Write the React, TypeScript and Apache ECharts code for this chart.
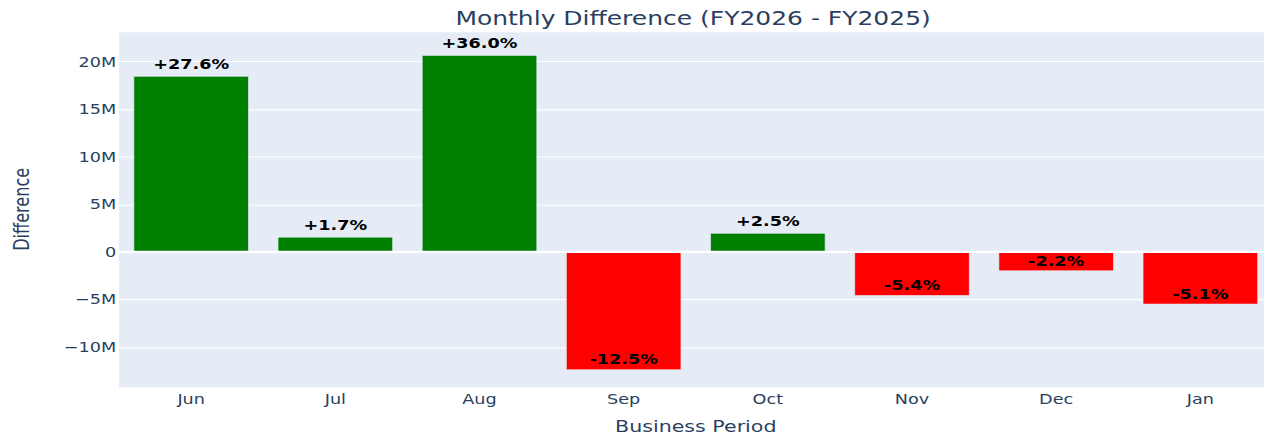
import React, { useEffect, useRef } from "react";
import * as echarts from "echarts";

const months = ["Jun", "Jul", "Aug", "Sep", "Oct", "Nov", "Dec", "Jan"];
const differences = [18.5e6, 1.6e6, 20.7e6, -12.4e6, 2.0e6, -4.6e6, -2.0e6, -5.5e6];
const pctLabels = ["+27.6%", "+1.7%", "+36.0%", "-12.5%", "+2.5%", "-5.4%", "-2.2%", "-5.1%"];
const yMin = -14.24e6;
const yMax = 23.23e6;

const FONT = '"DejaVu Sans", Verdana, sans-serif';
const TXT = "#2a3f5f";
const SX = 1.47;
const SY = 1.15;
const W0 = 943;
const H0 = 383;

export default function App() {
  const ref = useRef<HTMLDivElement>(null);
  useEffect(() => {
    if (!ref.current) return;
    const chart = echarts.init(ref.current, null, { renderer: "svg" });
    const barData = differences.map((v, i) => ({
      value: v,
      itemStyle: { color: v >= 0 ? "#008000" : "#ff0000" },
      label: {
        show: true,
        position: v >= 0 ? "top" : "insideBottom",
        distance: v >= 0 ? 4 : 3,
        formatter: pctLabels[i],
      },
    }));
    chart.setOption({
      animation: false,
      backgroundColor: "#ffffff",
      title: {
        text: "Monthly Difference (FY2026 - FY2025)",
        left: "center",
        top: 2,
        textStyle: { fontFamily: FONT, fontSize: 17, fontWeight: "normal", color: TXT },
      },
      grid: {
        left: 75,
        width: 790.6,
        top: 27,
        height: 310,
        show: true,
        backgroundColor: "#E5ECF6",
        borderWidth: 0,
        containLabel: false,
      },
      xAxis: {
        type: "category",
        data: months,
        name: "Business Period",
        nameLocation: "middle",
        nameGap: 27,
        nameTextStyle: { fontFamily: FONT, fontSize: 14, color: TXT },
        axisLine: { show: false },
        axisTick: { show: false },
        axisLabel: { fontFamily: FONT, fontSize: 12, color: TXT, margin: 4 },
        splitLine: { show: false },
      },
      yAxis: {
        type: "value",
        min: yMin,
        max: yMax,
        splitNumber: 7,
        name: "Difference",
        nameLocation: "middle",
        nameGap: 59,
        nameTextStyle: { fontFamily: FONT, fontSize: 14, color: TXT },
        axisLine: { show: false },
        axisTick: { show: false },
        axisLabel: {
          fontFamily: FONT,
          fontSize: 12,
          color: TXT,
          margin: 2,
          formatter: (v: number) => {
            if (Math.abs(v % 5e6) > 1) return "";
            if (v === 0) return "0";
            return (v < 0 ? "\u2212" : "") + Math.abs(v / 1e6) + "M";
          },
        },
        splitLine: { show: true, lineStyle: { color: "#ffffff", width: 1 } },
      },
      series: [
        {
          type: "line",
          data: [],
          z: 1,
          silent: true,
          markLine: {
            silent: true,
            symbol: "none",
            label: { show: false },
            lineStyle: { color: "#ffffff", width: 2, type: "solid" },
            data: [{ yAxis: 0 }],
          },
        },
        {
          type: "bar",
          z: 2,
          data: barData,
          barCategoryGap: "20%",
          itemStyle: { borderColor: "#E5ECF6", borderWidth: 0.5 },
          label: {
            show: true,
            fontFamily: FONT,
            fontSize: 12,
            fontWeight: "bold",
            color: "#000000",
          },
        },
      ],
    });
    return () => chart.dispose();
  }, []);

  return (
    <div
      style={{
        position: "fixed",
        left: 0,
        top: 0,
        width: 1264,
        height: 440,
        overflow: "hidden",
        background: "#ffffff",
      }}
    >
      <div
        ref={ref}
        style={{
          width: W0,
          height: H0,
          transform: `scale(${SX}, ${SY})`,
          transformOrigin: "0 0",
        }}
      />
    </div>
  );
}
